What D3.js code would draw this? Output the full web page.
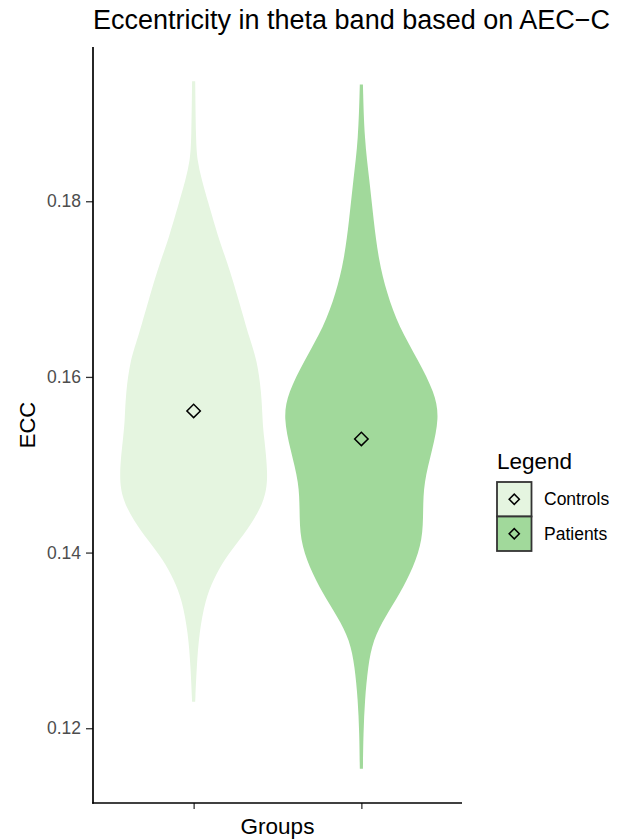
<!DOCTYPE html>
<html>
<head>
<meta charset="utf-8">
<script src="https://cdn.jsdelivr.net/npm/d3@7"></script>
<style>
  html, body { margin: 0; padding: 0; background: #ffffff; }
  svg { display: block; font-family: "Liberation Sans", Arial, Helvetica, sans-serif; }
</style>
</head>
<body>
<svg id="chart" width="628" height="840"></svg>
<script>
// Groups and their fill colours
const groups = ["Controls", "Patients"];
const groupColors = ["#e5f5e0", "#a1d99b"];

// Kernel density outline of each group: ECC value and relative density (max = 1)
const controlsEcc = [0.19365, 0.18698, 0.18470, 0.18242, 0.18015, 0.17559, 0.17332, 0.16876, 0.16421, 0.16194,
                     0.15818, 0.15511, 0.15363, 0.14862, 0.14600, 0.14372, 0.14145, 0.13917, 0.13689, 0.13462,
                     0.13086, 0.12699, 0.12301];
const controlsDensity = [0.020, 0.029, 0.045, 0.104, 0.178, 0.325, 0.422, 0.578, 0.721, 0.812,
                         0.870, 0.883, 0.896, 0.961, 0.909, 0.773, 0.591, 0.390, 0.253, 0.149,
                         0.071, 0.039, 0.020];
const patientsEcc = [0.19330, 0.18698, 0.18242, 0.17787, 0.17332, 0.16956, 0.16569, 0.16194, 0.15818, 0.15533,
                     0.15169, 0.14793, 0.14486, 0.14145, 0.13837, 0.13541, 0.13268, 0.13006, 0.12699, 0.12323,
                     0.11948, 0.11540];
const patientsDensity = [0.020, 0.039, 0.104, 0.156, 0.221, 0.325, 0.481, 0.727, 0.942, 1.000,
                         0.909, 0.799, 0.792, 0.786, 0.669, 0.500, 0.305, 0.149, 0.084, 0.045,
                         0.026, 0.020];

// Group means (diamond markers)
const groupMeans = [0.15613, 0.15294];

// Y axis tick values
const yTicks = [0.12, 0.14, 0.16, 0.18];

const titleText = "Eccentricity in theta band based on AEC\u2212C";
const xTitle = "Groups";
const yTitle = "ECC";
const legendTitle = "Legend";

const svg = d3.select("#chart");
const panel = { left: 93, right: 462, top: 47, bottom: 803 };

const series = [
  { ecc: controlsEcc, dens: controlsDensity },
  { ecc: patientsEcc, dens: patientsDensity }
];

// y domain: data range expanded by 5% on each side
const allEcc = controlsEcc.concat(patientsEcc);
const lo = d3.min(allEcc), hi = d3.max(allEcc), pad = (hi - lo) * 0.05;
const y = d3.scaleLinear().domain([lo - pad, hi + pad]).range([panel.bottom, panel.top]);
const x = d3.scalePoint().domain(groups).range([panel.left, panel.right]).padding(0.6);
const halfWidth = d3.scaleLinear().domain([0, 1]).range([0, x.step() * 0.465]);

// Violins (smoothed density outline, mirrored about the group position)
series.forEach((s, i) => {
  const cx = x(groups[i]);
  const pts = s.ecc.map((v, j) => ({ v: v, d: s.dens[j] }));
  const area = d3.area()
    .y(p => y(p.v))
    .x0(p => cx - halfWidth(p.d))
    .x1(p => cx + halfWidth(p.d))
    .curve(d3.curveBasis);
  svg.append("path")
    .attr("d", area(pts))
    .attr("fill", groupColors[i])
    .attr("stroke", "none");
});

// Mean markers: open diamonds
const diamond = d3.symbol().type(d3.symbolSquare).size(90);
groupMeans.forEach((m, i) => {
  svg.append("path")
    .attr("d", diamond())
    .attr("transform", `translate(${x(groups[i])},${y(m)}) rotate(45)`)
    .attr("fill", "none")
    .attr("stroke", "#000")
    .attr("stroke-width", 1.5);
});

// Y axis
const yAxis = svg.append("g")
  .attr("transform", `translate(${panel.left},0)`)
  .call(d3.axisLeft(y).tickValues(yTicks).tickSize(7).tickPadding(5).tickFormat(d3.format(".2f")));
yAxis.select(".domain").remove();
yAxis.selectAll(".tick line").attr("stroke", "#333333").attr("stroke-width", 1.3);
yAxis.selectAll(".tick text").attr("fill", "#4d4d4d").style("font-size", "17.5px")
  .style("font-family", "'Liberation Sans', Arial, sans-serif");

// X axis (ticks only, no labels)
const xAxis = svg.append("g")
  .attr("transform", `translate(0,${panel.bottom})`)
  .call(d3.axisBottom(x).tickSize(6).tickFormat(""));
xAxis.select(".domain").remove();
xAxis.selectAll(".tick line").attr("stroke", "#333333").attr("stroke-width", 1.3);

// Axis lines
svg.append("line").attr("x1", panel.left).attr("x2", panel.left)
  .attr("y1", panel.top).attr("y2", panel.bottom + 0.8)
  .attr("stroke", "#000").attr("stroke-width", 1.7);
svg.append("line").attr("x1", panel.left - 0.8).attr("x2", panel.right)
  .attr("y1", panel.bottom).attr("y2", panel.bottom)
  .attr("stroke", "#000").attr("stroke-width", 1.7);

// Titles
svg.append("text").attr("x", panel.left).attr("y", 28.5)
  .attr("font-size", 27).attr("fill", "#000").text(titleText);
svg.append("text").attr("x", (panel.left + panel.right) / 2).attr("y", 834)
  .attr("text-anchor", "middle").attr("font-size", 22.5).attr("fill", "#000").text(xTitle);
svg.append("text").attr("transform", `translate(35,${(panel.top + panel.bottom) / 2}) rotate(-90)`)
  .attr("text-anchor", "middle").attr("font-size", 22).attr("fill", "#000").text(yTitle);

// Legend
const legend = svg.append("g").attr("transform", "translate(497,0)");
legend.append("text").attr("x", 0).attr("y", 468.5)
  .attr("font-size", 22.5).attr("fill", "#000").text(legendTitle);
const keySize = 34.5;
const keyDiamond = d3.symbol().type(d3.symbolSquare).size(52);
groups.forEach((g, i) => {
  const ky = 482 + i * keySize;
  legend.append("rect").attr("x", 0).attr("y", ky).attr("width", keySize).attr("height", keySize)
    .attr("fill", groupColors[i]).attr("stroke", "#333333").attr("stroke-width", 1.8);
  legend.append("path").attr("d", keyDiamond())
    .attr("transform", `translate(${keySize / 2},${ky + keySize / 2}) rotate(45)`)
    .attr("fill", "none").attr("stroke", "#000").attr("stroke-width", 1.5);
  legend.append("text").attr("x", 47).attr("y", ky + keySize / 2).attr("dy", "0.35em")
    .attr("font-size", 17.5).attr("fill", "#000").text(g);
});
</script>
</body>
</html>
